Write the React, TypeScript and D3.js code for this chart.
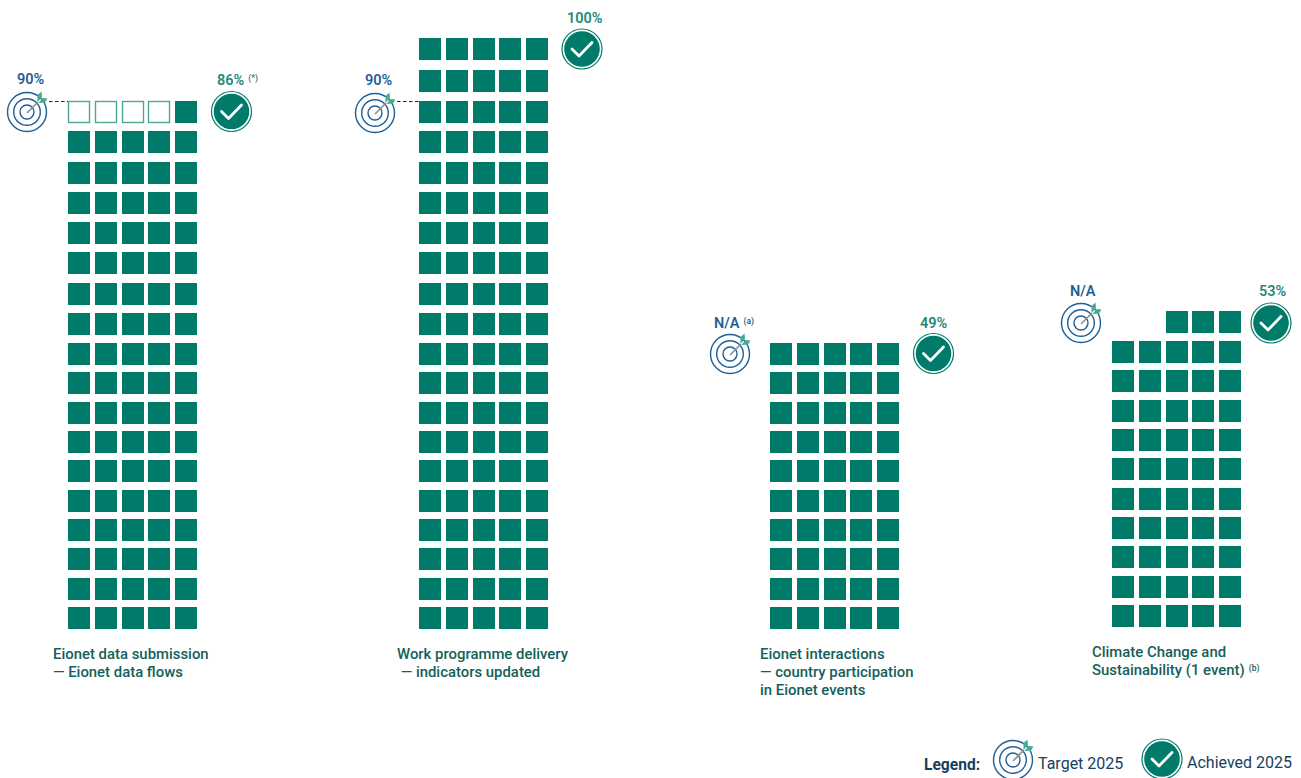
import React from "react";
import * as d3 from "d3";

// Indicator values, in panel order
const titles = [
  ["Eionet data submission", "— Eionet data flows"],
  ["Work programme delivery", " — indicators updated"],
  ["Eionet interactions", "— country participation", "in Eionet events"],
  ["Climate Change and", "Sustainability (1 event)"],
];
const titleNotes = ["", "", "", "(b)"];
const filledCells = [86, 100, 50, 53];
const targetCells = [90, 90, null, null];
const achievedLabels = ["86%", "100%", "49%", "53%"];
const achievedNotes = ["(*)", "", "", ""];
const targetLabels = ["90%", "90%", "N/A", "N/A"];
const targetNotes = ["", "", "(a)", ""];

const legendTitle = "Legend:";
const legendTarget = "Target 2025";
const legendAchieved = "Achieved 2025";

const TEAL = "#007b6a";
const BLUE = "#1f5f96";
const LABEL_GREEN = "#24897a";
const TITLE_GREEN = "#15605a";
const LEGEND_NAVY = "#17405f";
const FONT = "Roboto, sans-serif";
const CELL = 22;
const PER_ROW = 5;

// Layout of each panel: left edge of the grid, baseline shift, icon centres, label anchors
const panels = [
  { x: 68, dy: 0, target: [27, 112], check: [231.5, 111.5], targetText: [17, 84], checkText: [217, 85] },
  { x: 419, dy: 0, target: [375, 113], check: [582, 49], targetText: [365, 85], checkText: [567, 23] },
  { x: 770, dy: 0, target: [730, 354], check: [933.5, 353.5], targetText: [714, 328], checkText: [920, 328] },
  { x: 1112, dy: -2, target: [1081, 323], check: [1271, 323], targetText: [1070, 296], checkText: [1259, 296] },
];
const titlePos = [
  [53, 659],
  [397, 659],
  [760, 659],
  [1092, 657],
];

// Rows sit slightly closer together at the bottom of the grid than at the top
const rowY = d3.scaleLinear().domain([0, 9, 17, 19]).range([607, 343, 101, 38]);
const colX = d3.scalePoint<number>().domain(d3.range(PER_ROW)).range([0, 107]);

function TargetIcon({ cx, cy }: { cx: number; cy: number }) {
  return (
    <g transform={`translate(${cx},${cy})`}>
      {[19.5, 13.3, 7].map((r) => (
        <circle key={r} r={r} fill="#fff" stroke={BLUE} strokeWidth={1.4} />
      ))}
      <line x1={0} y1={1} x2={11} y2={-10} stroke="#8a8f90" strokeWidth={1.6} />
      <path d="M10.5,-10 L10.5,-17 L14.5,-20.5 L15,-15 Z" fill="#46ab94" />
      <path d="M11.5,-9 L18,-9.5 L20.5,-13.5 L15.5,-14 Z" fill="#46ab94" />
    </g>
  );
}

function CheckIcon({ cx, cy }: { cx: number; cy: number }) {
  return (
    <g transform={`translate(${cx},${cy})`}>
      <circle r={20} fill="#fff" stroke={TEAL} strokeWidth={1.2} />
      <circle r={17.8} fill={TEAL} />
      <path d="M-10,0 L-3,7 L10,-6.5" fill="none" stroke="#fff" strokeWidth={2.8} strokeLinecap="round" strokeLinejoin="round" />
    </g>
  );
}

function Labelled({ x, y, text, note, color }: { x: number; y: number; text: string; note: string; color: string }) {
  return (
    <text x={x} y={y} fill={color} fontFamily={FONT} fontWeight={600} fontSize={14.5}>
      {text}
      {note && (
        <tspan dx={4} dy={-4} fontSize={8.5}>
          {note}
        </tspan>
      )}
    </text>
  );
}

function Panel({ index }: { index: number }) {
  const p = panels[index];
  const filled = filledCells[index];
  const target = targetCells[index];
  const total = Math.max(filled, target ?? 0);
  const targetRow = target === null ? null : Math.ceil(target / PER_ROW) - 1;
  return (
    <g>
      {d3.range(total).map((i) => {
        const row = Math.floor(i / PER_ROW);
        const col = PER_ROW - 1 - (i % PER_ROW);
        const x = p.x + Math.round(colX(col)!);
        const y = Math.round(rowY(row)) + p.dy;
        return i < filled ? (
          <rect key={i} x={x} y={y} width={CELL} height={CELL} fill={TEAL} />
        ) : (
          <rect key={i} x={x + 0.5} y={y + 0.5} width={CELL - 1} height={CELL - 1} fill="#fff" stroke="#4fa596" strokeWidth={1.4} />
        );
      })}
      <TargetIcon cx={p.target[0]} cy={p.target[1]} />
      <CheckIcon cx={p.check[0]} cy={p.check[1]} />
      {targetRow !== null && (
        <line
          x1={p.target[0] + 22}
          x2={p.x}
          y1={rowY(targetRow) + 0.5}
          y2={rowY(targetRow) + 0.5}
          stroke="#222"
          strokeWidth={1.2}
          strokeDasharray="3.5 2.5"
        />
      )}
      <Labelled x={p.targetText[0]} y={p.targetText[1]} text={targetLabels[index]} note={targetNotes[index]} color={BLUE} />
      <Labelled x={p.checkText[0]} y={p.checkText[1]} text={achievedLabels[index]} note={achievedNotes[index]} color={LABEL_GREEN} />
      <text fill={TITLE_GREEN} fontFamily={FONT} fontWeight={500} fontSize={14.9}>
        {titles[index].map((line, k) => (
          <tspan key={k} x={titlePos[index][0]} y={titlePos[index][1] + k * 18} xmlSpace="preserve">
            {line}
            {k === titles[index].length - 1 && titleNotes[index] && (
              <tspan dx={4} dy={-4} fontSize={8.5}>
                {titleNotes[index]}
              </tspan>
            )}
          </tspan>
        ))}
      </text>
    </g>
  );
}

export default function App() {
  return (
    <svg
      width={1301}
      height={778}
      viewBox="0 0 1301 778"
      style={{ position: "absolute", left: 0, top: 0, display: "block", background: "#fff" }}
    >
      {panels.map((_, i) => (
        <Panel key={i} index={i} />
      ))}
      <text x={924} y={770} fill={LEGEND_NAVY} fontFamily={FONT} fontWeight={700} fontSize={15.6}>
        {legendTitle}
      </text>
      <TargetIcon cx={1013} cy={760} />
      <text x={1038} y={769} fill={LEGEND_NAVY} fontFamily={FONT} fontSize={16}>
        {legendTarget}
      </text>
      <CheckIcon cx={1162} cy={759} />
      <text x={1187} y={768} fill={LEGEND_NAVY} fontFamily={FONT} fontSize={16}>
        {legendAchieved}
      </text>
    </svg>
  );
}
